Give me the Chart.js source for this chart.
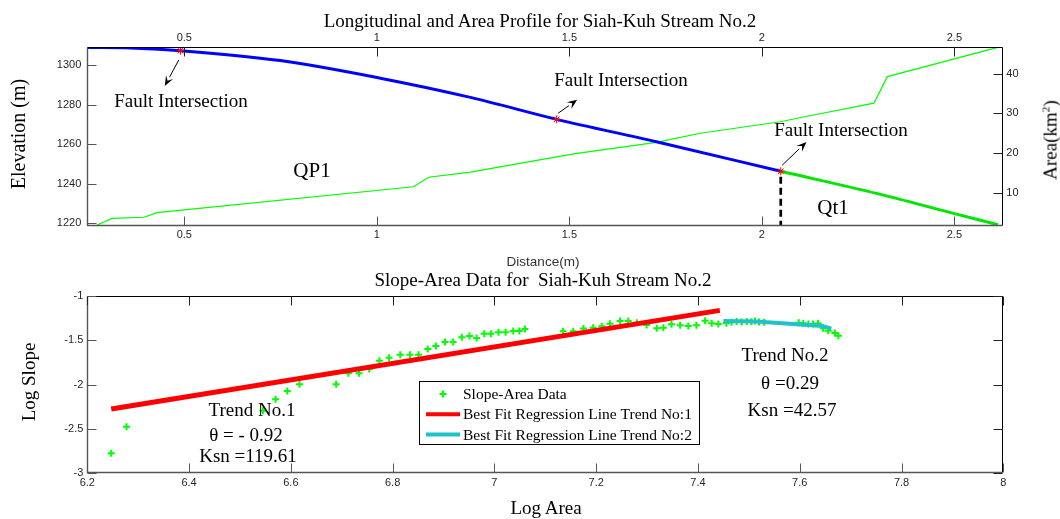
<!DOCTYPE html>
<html><head><meta charset="utf-8">
<script src="https://cdn.jsdelivr.net/npm/chart.js@4/dist/chart.umd.min.js"></script>
<style>
html,body{margin:0;padding:0;background:#fff;}
#wrap{position:relative;width:1060px;height:519px;overflow:hidden;background:#fff;}
canvas{position:absolute;left:0;}
.t{position:absolute;font-family:'Liberation Serif','Times New Roman',serif;color:#000;white-space:nowrap;transform:translate(-50%,-50%);line-height:1;}
.rot{transform:translate(-50%,-50%) rotate(-90deg);}
.s{font-family:'Liberation Sans',Arial,sans-serif;color:#333;}
sup{font-size:60%;vertical-align:0.6em;line-height:0;}
</style></head>
<body><div id="wrap">
<canvas id="top" width="1060" height="268" style="top:0px"></canvas>
<canvas id="bot" width="1060" height="251" style="top:268px"></canvas>

<div class="t" style="left:540px;top:20px;font-size:19px">Longitudinal and Area Profile for Siah-Kuh Stream No.2</div>
<div class="t rot" style="left:18px;top:134px;font-size:20px">Elevation (m)</div>
<div class="t rot" style="left:1050px;top:140px;font-size:19px">Area(km<sup>2</sup>)</div>
<div class="t s" style="left:543px;top:262px;font-size:13.5px">Distance(m)</div>
<div class="t" style="left:181px;top:100px;font-size:19px">Fault Intersection</div>
<div class="t" style="left:621px;top:79px;font-size:19px">Fault Intersection</div>
<div class="t" style="left:841px;top:129px;font-size:19px">Fault Intersection</div>
<div class="t" style="left:312px;top:170px;font-size:21px">QP1</div>
<div class="t" style="left:833px;top:207px;font-size:21px">Qt1</div>

<div class="t" style="left:543px;top:279px;font-size:19px">Slope-Area Data for&nbsp; Siah-Kuh Stream No.2</div>
<div class="t" style="left:546px;top:507px;font-size:19px">Log Area</div>
<div class="t rot" style="left:28px;top:382px;font-size:19px">Log Slope</div>
<div class="t" style="left:252px;top:409px;font-size:19px">Trend No.1</div>
<div class="t" style="left:246px;top:434px;font-size:19px">θ = - 0.92</div>
<div class="t" style="left:248px;top:455px;font-size:19px">Ksn =119.61</div>
<div class="t" style="left:785px;top:354px;font-size:19px">Trend No.2</div>
<div class="t" style="left:790px;top:382px;font-size:19px">θ =0.29</div>
<div class="t" style="left:792px;top:409px;font-size:19px">Ksn =42.57</div>
</div>
<script>
// ---------- DATA ----------
const distTicks = [0.5, 1, 1.5, 2, 2.5];
const elevTicks = [1220, 1240, 1260, 1280, 1300];
const areaTicks = [10, 20, 30, 40];
const logAreaTicks = [6.2, 6.4, 6.6, 6.8, 7, 7.2, 7.4, 7.6, 7.8, 8];
const logSlopeTicks = [-3, -2.5, -2, -1.5, -1];

const qp1Dist = [0.248, 0.36, 0.49, 0.749, 1.009, 1.243, 1.467, 1.726, 2.049];
const qp1Elev = [1308.8, 1308.6, 1307.2, 1302.2, 1293.3, 1283.6, 1272.5, 1261.2, 1246.3];
const qt1Dist = [2.049, 2.3, 2.5, 2.613];
const qt1Elev = [1246.3, 1235.0, 1224.9, 1219.3];
const areaDist = [0.248, 0.27, 0.312, 0.395, 0.429, 1.095, 1.135, 1.243, 1.511, 1.726, 1.84, 2.048, 2.108, 2.291, 2.326, 2.613];
const areaKm2  = [1.67, 1.67, 3.53, 3.8, 4.95, 11.5, 13.9, 15.2, 19.8, 22.7, 25.0, 27.9, 29.1, 32.6, 39.3, 46.7];
const faultDist = [0.49, 1.467, 2.049];
const faultElev = [1307.2, 1272.5, 1246.3];
const boundaryDist = [2.049, 2.049];
const boundaryElev = [1243.5, 1218.8];

const logArea = [6.247,6.277,6.545,6.570,6.593,6.617,6.689,6.713,6.734,6.754,6.774,6.793,6.815,6.834,6.851,6.869,6.885,6.903,6.919,6.936,6.951,6.965,6.980,6.993,7.008,7.022,7.037,7.049,7.060,
  7.135,7.155,7.175,7.194,7.211,7.227,7.247,7.263,7.280,7.299,7.319,7.332,7.348,7.365,7.381,7.397,7.414,7.427,7.440,7.456,7.466,7.476,7.486,7.496,7.505,7.512,7.520,7.530,
  7.598,7.607,7.617,7.626,7.636,7.646,7.656,7.669,7.676];
const logSlope = [-2.775,-2.475,-2.295,-2.167,-2.073,-1.998,-1.998,-1.874,-1.874,-1.825,-1.732,-1.698,-1.664,-1.664,-1.664,-1.600,-1.566,-1.521,-1.521,-1.469,-1.454,-1.476,-1.428,-1.428,-1.412,-1.412,-1.397,-1.397,-1.375,
  -1.400,-1.400,-1.370,-1.360,-1.345,-1.315,-1.285,-1.285,-1.304,-1.330,-1.367,-1.360,-1.322,-1.332,-1.341,-1.332,-1.283,-1.311,-1.319,-1.311,-1.300,-1.290,-1.295,-1.290,-1.292,-1.285,-1.295,-1.300,
  -1.305,-1.310,-1.320,-1.318,-1.310,-1.367,-1.394,-1.420,-1.450];
const trend1Area = [6.247, 7.443];
const trend1Slope = [-2.276, -1.165];
const trend2Area = [7.45, 7.515, 7.58, 7.645, 7.662];
const trend2Slope = [-1.285, -1.29, -1.315, -1.34, -1.37];

// ---------- HELPERS ----------
const pts = (xs, ys) => xs.map((x, i) => ({x, y: ys[i]}));
const setTicks = vals => s => { s.ticks = vals.map(v => ({value: v})); };
Chart.defaults.font.family = "'Liberation Sans', Arial, sans-serif";
Chart.defaults.font.size = 11;
Chart.defaults.color = '#262626';

const matlabAxes = {
  id: 'matlabAxes',
  afterDraw(chart, args, o) {
    const {ctx, chartArea: a} = chart;
    ctx.save();
    const L = o.len;
    const l = Math.round(a.left) + 0.5, r = Math.round(a.right) - 0.5;
    const t = Math.round(a.top) + 0.5, b = Math.round(a.bottom) - 0.5;
    ctx.lineWidth = 1;
    ctx.strokeStyle = '#000';
    ctx.beginPath(); ctx.moveTo(l, t); ctx.lineTo(r, t); ctx.lineTo(r, b); ctx.stroke();
    ctx.strokeStyle = '#555';
    ctx.lineWidth = 1.4;
    ctx.beginPath(); ctx.moveTo(l, t); ctx.lineTo(l, b); ctx.lineTo(r, b); ctx.stroke();
    ctx.lineWidth = 1;
    for (const [id, sides] of Object.entries(o.ticks)) {
      const s = chart.scales[id];
      s.ticks.forEach(tk => {
        const p = Math.round(s.getPixelForValue(tk.value)) + 0.5;
        sides.forEach(side => {
          ctx.strokeStyle = (side === 'left' || side === 'bottom') ? '#555' : '#222';
          ctx.beginPath();
          if (side === 'bottom') { ctx.moveTo(p, b); ctx.lineTo(p, b - L); }
          if (side === 'top') { ctx.moveTo(p, t); ctx.lineTo(p, t + L); }
          if (side === 'left') { ctx.moveTo(l, p); ctx.lineTo(l + L, p); }
          if (side === 'right') { ctx.moveTo(r, p); ctx.lineTo(r - L, p); }
          ctx.stroke();
        });
      });
    }
    ctx.restore();
  }
};

const arrows = {
  id: 'arrows',
  afterDatasetsDraw(chart, args, o) {
    const ctx = chart.ctx;
    const meta = chart.getDatasetMeta(o.dataset);
    ctx.save();
    ctx.strokeStyle = '#000'; ctx.fillStyle = '#000'; ctx.lineWidth = 1;
    o.list.forEach(ar => {
      const el = meta.data[ar.i];
      const x0 = el.x + ar.tail[0], y0 = el.y + ar.tail[1];
      const x1 = el.x + ar.head[0], y1 = el.y + ar.head[1];
      const ang = Math.atan2(y1 - y0, x1 - x0);
      const hl = 10, hw = 4;
      const bx = x1 - hl * Math.cos(ang), by = y1 - hl * Math.sin(ang);
      ctx.beginPath(); ctx.moveTo(x0, y0); ctx.lineTo(bx, by); ctx.stroke();
      ctx.beginPath();
      ctx.moveTo(x1, y1);
      ctx.lineTo(bx - hw * Math.sin(ang), by + hw * Math.cos(ang));
      ctx.lineTo(x1 - 0.6 * hl * Math.cos(ang), y1 - 0.6 * hl * Math.sin(ang));
      ctx.lineTo(bx + hw * Math.sin(ang), by - hw * Math.cos(ang));
      ctx.closePath(); ctx.fill();
    });
    ctx.restore();
  }
};

const legendBox = {
  id: 'legendBox',
  afterDraw(chart, args, o) {
    const ctx = chart.ctx;
    ctx.save();
    ctx.fillStyle = '#fff';
    ctx.fillRect(o.x, o.y, o.w, o.h);
    ctx.strokeStyle = '#000'; ctx.lineWidth = 1;
    ctx.strokeRect(o.x + 0.5, o.y + 0.5, o.w, o.h);
    ctx.font = o.font; ctx.textBaseline = 'middle'; ctx.textAlign = 'left';
    chart.data.datasets.forEach((ds, i) => {
      const cy = o.y + o.first + i * o.row;
      ctx.strokeStyle = ds.borderColor;
      if (ds.showLine) {
        ctx.lineWidth = o.lineW;
        ctx.beginPath(); ctx.moveTo(o.s0, cy); ctx.lineTo(o.s1, cy); ctx.stroke();
      } else {
        ctx.lineWidth = ds.borderWidth;
        const cx = (o.s0 + o.s1) / 2, r = ds.pointRadius;
        ctx.beginPath(); ctx.moveTo(cx - r, cy); ctx.lineTo(cx + r, cy);
        ctx.moveTo(cx, cy - r); ctx.lineTo(cx, cy + r); ctx.stroke();
      }
      ctx.fillStyle = '#000';
      ctx.fillText(ds.label, o.tx, cy + 1);
    });
    ctx.restore();
  }
};

const axisBase = (extra) => Object.assign({
  type: 'linear',
  grid: {display: false, drawTicks: false},
  border: {display: false},
}, extra);

// ---------- TOP CHART ----------
new Chart(document.getElementById('top'), {
  type: 'scatter',
  data: {datasets: [
    {label: 'Fault Intersection', data: pts(faultDist, faultElev), yAxisID: 'y', pointStyle: 'star', pointRadius: 4, borderColor: '#ff0000', backgroundColor: '#ff0000', borderWidth: 1, order: 0},
    {label: 'Qt1 boundary', data: pts(boundaryDist, boundaryElev), yAxisID: 'y', showLine: true, pointRadius: 0, borderColor: '#000', borderWidth: 2.7, borderDash: [7, 4], order: 1},
    {label: 'Elevation QP1', data: pts(qp1Dist, qp1Elev), yAxisID: 'y', showLine: true, cubicInterpolationMode: 'monotone', pointRadius: 0, borderColor: '#0000ff', borderWidth: 3, order: 2},
    {label: 'Elevation Qt1', data: pts(qt1Dist, qt1Elev), yAxisID: 'y', showLine: true, cubicInterpolationMode: 'monotone', pointRadius: 0, borderColor: '#00e600', borderWidth: 3, order: 3},
    {label: 'Area', data: pts(areaDist, areaKm2), yAxisID: 'yA', showLine: true, pointRadius: 0, borderColor: '#00ff00', borderWidth: 1.2, order: 4}
  ]},
  options: {
    responsive: false, animation: false, events: [],
    layout: {padding: 0},
    plugins: {
      legend: {display: false}, tooltip: {enabled: false},
      matlabAxes: {len: 9, ticks: {x: ['bottom', 'top'], y: ['left'], yA: ['right']}},
      arrows: {dataset: 0, list: [
        {i: 0, tail: [-1.7, 9.3], head: [-15.7, 35.3]},
        {i: 1, tail: [1.5, -6.2], head: [20.5, -19.5]},
        {i: 2, tail: [1.4, -6], head: [25.7, -29.3]}
      ]}
    },
    scales: {
      x: axisBase({position: 'bottom', min: 0.248, max: 2.627, ticks: {padding: 3, callback: v => String(v)}, afterBuildTicks: setTicks(distTicks), afterFit: s => { s.height = 268 - 225.7; }}),
      xt: axisBase({position: 'top', min: 0.248, max: 2.627, ticks: {padding: 3, callback: v => String(v)}, afterBuildTicks: setTicks(distTicks), afterFit: s => { s.height = 47.3; }}),
      y: axisBase({position: 'left', min: 1218.8, max: 1308.9, ticks: {padding: 6, callback: v => String(v)}, afterBuildTicks: setTicks(elevTicks), afterFit: s => { s.width = 87.3; }}),
      yA: axisBase({position: 'right', min: 1.67, max: 46.7, ticks: {padding: 3, callback: v => String(v)}, afterBuildTicks: setTicks(areaTicks), afterFit: s => { s.width = 1060 - 1003.3; }})
    }
  },
  plugins: [matlabAxes, arrows]
});

// ---------- BOTTOM CHART ----------
new Chart(document.getElementById('bot'), {
  type: 'scatter',
  data: {datasets: [
    {label: 'Slope-Area Data', data: pts(logArea, logSlope), pointStyle: 'cross', pointRadius: 3.5, borderWidth: 2, borderColor: '#00ff00', backgroundColor: '#00ff00', order: 3},
    {label: 'Best Fit Regression Line Trend No:1', data: pts(trend1Area, trend1Slope), showLine: true, pointRadius: 0, borderColor: '#ff0000', borderWidth: 5, order: 2},
    {label: 'Best Fit Regression Line Trend No:2', data: pts(trend2Area, trend2Slope), showLine: true, pointRadius: 0, borderColor: '#1fc2c8', borderWidth: 4, order: 1}
  ]},
  options: {
    responsive: false, animation: false, events: [],
    layout: {padding: {top: 27.7, right: 1060 - 1003.3, left: 0, bottom: 0}},
    plugins: {
      legend: {display: false}, tooltip: {enabled: false},
      matlabAxes: {len: 9, ticks: {x: ['bottom', 'top'], y: ['left', 'right']}},
      legendBox: {x: 419, y: 113, w: 280, h: 63, first: 13, row: 20.3, s0: 426, s1: 460, tx: 463, lineW: 4, font: "15.5px 'Liberation Serif', 'Times New Roman', serif"}
    },
    scales: {
      x: axisBase({position: 'bottom', min: 6.2, max: 8, ticks: {padding: 3, callback: v => String(v)}, afterBuildTicks: setTicks(logAreaTicks), afterFit: s => { s.height = 251 - 205.3; }}),
      y: axisBase({position: 'left', min: -3, max: -1, ticks: {padding: 4, callback: v => String(v)}, afterBuildTicks: setTicks(logSlopeTicks), afterFit: s => { s.width = 87.3; }})
    }
  },
  plugins: [matlabAxes, legendBox]
});
</script>
</body></html>
